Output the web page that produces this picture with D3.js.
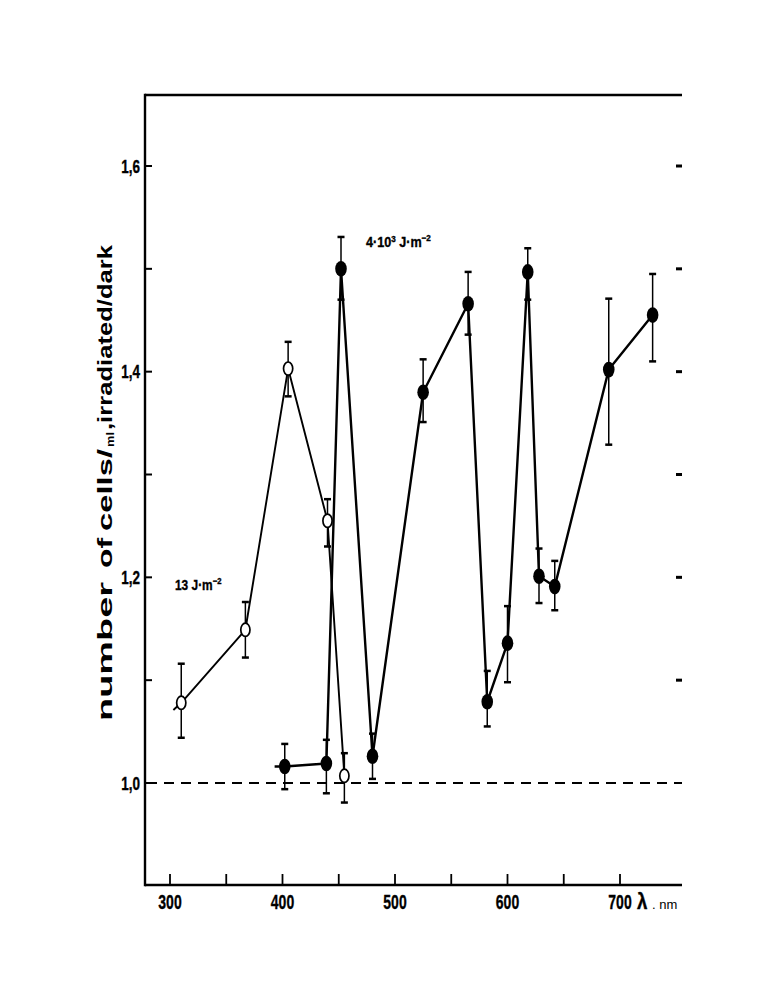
<!DOCTYPE html>
<html>
<head>
<meta charset="utf-8">
<script src="https://cdn.jsdelivr.net/npm/d3@7"></script>
<style>
  html, body { margin: 0; padding: 0; background: #fff; }
  svg { display: block; }
  .nar { font-family: "Liberation Sans", Arial, sans-serif; font-weight: bold; stroke: #000; stroke-width: 0.35; }
  .lab { font-family: "Liberation Sans", Arial, sans-serif; font-weight: bold; }
</style>
</head>
<body>
<script>
// ---- data ----
// open circles, 13 J·m^-2
const openWl    = [310, 367, 405, 440, 455];
const openVal   = [1.078, 1.149, 1.403, 1.255, 1.007];
const openHi    = [1.116, 1.176, 1.429, 1.276, 1.029];
const openLo    = [1.044, 1.122, 1.376, 1.230, 0.981];
const openLead  = [303, 1.071];   // line stub left of first point

// filled circles, 4·10^3 J·m^-2
const fillWl    = [402, 439, 452, 480, 525, 565, 582, 600, 618, 628, 642, 690, 729];
const fillVal   = [1.016, 1.019, 1.500, 1.026, 1.380, 1.466, 1.079, 1.136, 1.497, 1.201, 1.191, 1.402, 1.455];
const fillHi    = [1.038, 1.042, 1.531, 1.048, 1.412, 1.497, 1.109, 1.172, 1.520, 1.228, 1.216, 1.471, 1.495];
const fillLo    = [0.994, 0.990, 1.470, 1.004, 1.351, 1.436, 1.055, 1.098, 1.470, 1.175, 1.168, 1.329, 1.410];
const fillLead  = [393, 1.016];   // horizontal stub left of first point

const xTicks      = [300, 350, 400, 450, 500, 550, 600, 650, 700];
const xTickLabels = [300, 400, 500, 600, 700];
const yTicks      = [1.0, 1.1, 1.2, 1.3, 1.4, 1.5, 1.6];
const yTickLabels = ["1,0", "1,2", "1,4", "1,6"];
const yLabelVals  = [1.0, 1.2, 1.4, 1.6];
const refValue    = 1.0;

// ---- layout ----
const W = 772, H = 1000;
const pL = 145, pR = 682, pT = 95, pB = 885;

const x = d3.scaleLinear().domain([300, 700]).range([170, 620]);
const y = d3.scaleLinear().domain([1.0, 1.6]).range([783, 166]);

const svg = d3.select("body").append("svg").attr("width", W).attr("height", H);

// condensed text helper: text drawn in a horizontally squeezed group
function narrowText(px, py, sx, size, anchor) {
  const g = svg.append("g").attr("transform", `translate(${px},${py}) scale(${sx},1)`);
  return g.append("text").attr("class", "nar").attr("x", 0).attr("y", 0)
    .attr("font-size", size).attr("text-anchor", anchor || "start");
}

// frame: top line, left axis, bottom axis
svg.append("line").attr("x1", pL).attr("x2", pR).attr("y1", pT).attr("y2", pT)
  .attr("stroke", "#000").attr("stroke-width", 2.6);
svg.append("line").attr("x1", pL).attr("x2", pL).attr("y1", pT - 1.3).attr("y2", pB + 1.3)
  .attr("stroke", "#000").attr("stroke-width", 2.4);
svg.append("line").attr("x1", pL).attr("x2", pR).attr("y1", pB).attr("y2", pB)
  .attr("stroke", "#000").attr("stroke-width", 2.4);

// x ticks (inward)
svg.selectAll(".xt").data(xTicks).enter().append("line")
  .attr("x1", d => x(d)).attr("x2", d => x(d))
  .attr("y1", pB).attr("y2", pB - 11)
  .attr("stroke", "#000").attr("stroke-width", 1.8);
xTickLabels.forEach(d => {
  narrowText(x(d), 909, 0.7, 20, "middle").text(d);
});
// lambda unit
narrowText(637, 909, 0.85, 22, "start").text("λ");
svg.append("text").attr("x", 652).attr("y", 909)
  .attr("font-family", "Liberation Sans, Arial, sans-serif")
  .attr("font-size", 13).text(". nm");

// y ticks (inward) on left
svg.selectAll(".yt").data(yTicks).enter().append("line")
  .attr("x1", pL).attr("x2", pL + 7)
  .attr("y1", d => y(d)).attr("y2", d => y(d))
  .attr("stroke", "#000").attr("stroke-width", 2);
yLabelVals.forEach((d, i) => {
  narrowText(140, y(d) + 6.5, 0.75, 18, "end").text(yTickLabels[i]);
});
// right-hand tick dashes
svg.selectAll(".yr").data(yTicks.slice(1)).enter().append("line")
  .attr("x1", pR - 6).attr("x2", pR)
  .attr("y1", d => y(d)).attr("y2", d => y(d))
  .attr("stroke", "#000").attr("stroke-width", 3);

// reference dashed line at 1.0
svg.append("line").attr("x1", pL + 2).attr("x2", pR)
  .attr("y1", y(refValue)).attr("y2", y(refValue))
  .attr("stroke", "#000").attr("stroke-width", 2)
  .attr("stroke-dasharray", "10,7");

// y axis label (rotated)
const gl = svg.append("g").attr("transform", "translate(111.5,0) rotate(-90)");
const chunks = [
  { t: "number", x0: 721, len: 139, fs: 21, dy: 0 },
  { t: "of", x0: 568, len: 30, fs: 21, dy: 0 },
  { t: "cells/", x0: 531, len: 82, fs: 21, dy: 0 },
  { t: "ml", x0: 447, len: 15, fs: 11, dy: 2 },
  { t: ",irradiated/dark", x0: 430, len: 185, fs: 21, dy: 0 }
];
chunks.forEach(c => {
  gl.append("text").attr("class", "lab")
    .attr("x", -c.x0).attr("y", c.dy)
    .attr("font-size", c.fs)
    .attr("textLength", c.len).attr("lengthAdjust", "spacingAndGlyphs")
    .text(c.t);
});

// annotations
const a1 = narrowText(175, 590, 0.85, 14, "start");
a1.append("tspan").text("13 J·m");
a1.append("tspan").attr("font-size", 9).attr("dy", -6).text("−2");

const a2 = narrowText(366, 247, 0.9, 14, "start");
a2.append("tspan").text("4·10");
a2.append("tspan").attr("font-size", 9).attr("dy", -5).text("3");
a2.append("tspan").attr("dy", 5).text(" J·m");
a2.append("tspan").attr("font-size", 9).attr("dy", -6).text("−2");

// build point tables
const openPts = openWl.map((w, i) => ({ w, v: openVal[i], hi: openHi[i], lo: openLo[i] }));
const fillPts = fillWl.map((w, i) => ({ w, v: fillVal[i], hi: fillHi[i], lo: fillLo[i] }));

const line = d3.line().x(d => x(d[0])).y(d => y(d[1]));

// error bars
function errBars(pts) {
  const g = svg.append("g");
  g.selectAll("line.v").data(pts).enter().append("line")
    .attr("x1", d => x(d.w)).attr("x2", d => x(d.w))
    .attr("y1", d => y(d.hi)).attr("y2", d => y(d.lo))
    .attr("stroke", "#000").attr("stroke-width", 1.5);
  g.selectAll("line.ct").data(pts).enter().append("line")
    .attr("x1", d => x(d.w) - 3.5).attr("x2", d => x(d.w) + 3.5)
    .attr("y1", d => y(d.hi)).attr("y2", d => y(d.hi))
    .attr("stroke", "#000").attr("stroke-width", 2.5);
  g.selectAll("line.cb").data(pts).enter().append("line")
    .attr("x1", d => x(d.w) - 3.5).attr("x2", d => x(d.w) + 3.5)
    .attr("y1", d => y(d.lo)).attr("y2", d => y(d.lo))
    .attr("stroke", "#000").attr("stroke-width", 2.5);
}
errBars(openPts);
errBars(fillPts);

// lines
svg.append("path")
  .attr("d", line([openLead].concat(openPts.map(d => [d.w, d.v]))))
  .attr("fill", "none").attr("stroke", "#000").attr("stroke-width", 1.9)
  .attr("stroke-linejoin", "round");
svg.append("path")
  .attr("d", line([fillLead].concat(fillPts.map(d => [d.w, d.v]))))
  .attr("fill", "none").attr("stroke", "#000").attr("stroke-width", 2.4)
  .attr("stroke-linejoin", "round");

// markers
svg.selectAll(".fm").data(fillPts).enter().append("ellipse")
  .attr("cx", d => x(d.w)).attr("cy", d => y(d.v))
  .attr("rx", 5.8).attr("ry", 7.8).attr("fill", "#000");
svg.selectAll(".om").data(openPts).enter().append("ellipse")
  .attr("cx", d => x(d.w)).attr("cy", d => y(d.v))
  .attr("rx", 4.6).attr("ry", 6.6)
  .attr("fill", "#fff").attr("stroke", "#000").attr("stroke-width", 1.7);
</script>
</body>
</html>
